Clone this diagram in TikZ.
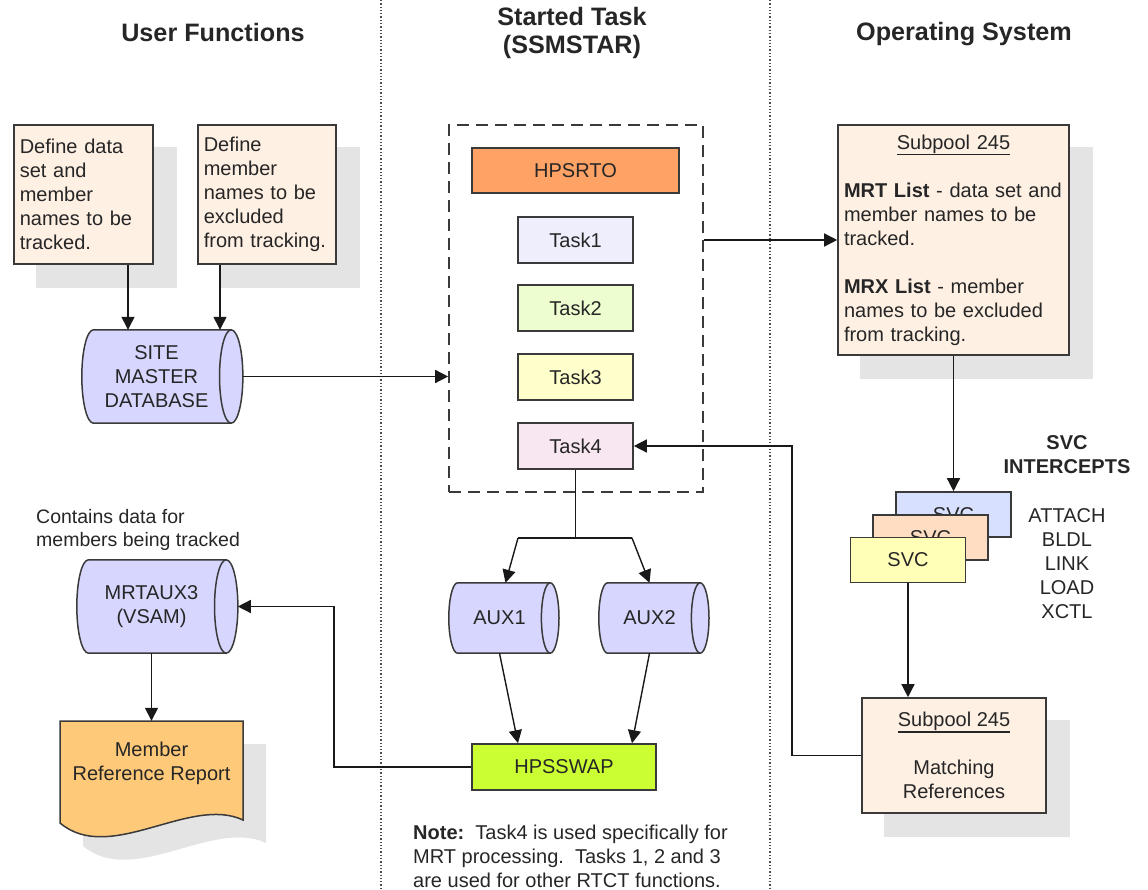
\documentclass[tikz,border=0pt]{standalone}
\usepackage{fontspec}
\setmainfont{Liberation Sans}
\usetikzlibrary{arrows.meta,calc,backgrounds}

\definecolor{txtc}{HTML}{262626}
\definecolor{bordc}{HTML}{3A3A3A}
\definecolor{peach}{HTML}{FFF0E4}
\definecolor{shadowc}{HTML}{E4E4E4}
\definecolor{cylc}{HTML}{D6D6FF}
\definecolor{rtoc}{HTML}{FFA265}
\definecolor{taskA}{HTML}{EEEEFC}
\definecolor{taskB}{HTML}{EEFDCF}
\definecolor{taskC}{HTML}{FFFFCC}
\definecolor{taskD}{HTML}{F8E6F0}
\definecolor{swapc}{HTML}{CCFF33}
\definecolor{reportc}{HTML}{FFC97A}
\definecolor{svcA}{HTML}{D8E0FF}
\definecolor{svcB}{HTML}{FFDDC2}
\definecolor{svcC}{HTML}{FFFFB8}

% underlined heading inside the subpool boxes
\newcommand\poolhead[1]{\leavevmode\vtop{\hbox{#1}\kern0.6pt\hrule height 1.5pt}}

% horizontal storage cylinder drawn round the body of a named node
\newcommand\dbcyl[1]{%
  \path[cylshape] let \p1=(#1.north west), \p2=(#1.south east),
      \n1={(\y1-\y2)/2}, \n2={(\y1-\y2)/8} in
    (\x1+\n2,\y1) -- (\x2,\y1)
      arc[start angle=90, end angle=-90, x radius=\n2, y radius=\n1]
    -- (\x1+\n2,\y2)
      arc[start angle=270, end angle=90, x radius=\n2, y radius=\n1] -- cycle;
  \path[cylrim] let \p1=(#1.north east), \p2=(#1.south east),
      \n1={(\y1-\y2)/2}, \n2={(\y1-\y2)/8} in
    (\x1,\y1) arc[start angle=90, end angle=270, x radius=\n2, y radius=\n1];
}

\tikzset{
  every node/.style={font=\fontsize{20}{24}\selectfont, text=txtc},
  title/.style={font=\fontsize{25.2}{28}\bfseries\selectfont, align=center},
  box/.style={draw=bordc, line width=1.6pt, rectangle, inner sep=0pt},
  notebox/.style={box, fill=peach, inner xsep=6pt, align=left},
  taskbox/.style={box, minimum width=115pt, minimum height=46pt},
  svcbox/.style={box, minimum width=115pt, minimum height=45pt},
  cylbody/.style={inner sep=0pt, align=center},
  cylshape/.style={fill=cylc, draw=bordc, line width=1.5pt},
  cylrim/.style={draw=bordc, line width=1.5pt},
  divider/.style={draw=black!70, line width=1.3pt, dotted},
  frame/.style={draw=bordc, line width=1.6pt, dash pattern=on 12pt off 7pt,
                minimum width=254pt, minimum height=367pt},
  link/.style={draw=black!90, line width=1.4pt},
  arr/.style={link, -{Triangle[length=13pt, width=13pt]}},
}

\begin{document}
\begin{tikzpicture}[x=1pt, y=1pt]
\useasboundingbox (0,0) rectangle (1148,-890);

% column dividers
\draw[divider] (381,0) -- (381,-890);
\draw[divider] (770,0) -- (770,-890);

% column headings
\node[title] (hUser) at (213,-32) {User Functions};
\node[title] (hTask) at (572,-33) {Started Task\\(SSMSTAR)};
\node[title] (hOS)   at (964,-34.5) {Operating System};

% ---------- user functions ----------
\node[notebox, text width=127pt, minimum height=139pt, anchor=north west] (def1)
  at (13,-124) {Define data\\set and\\member\\names to be\\tracked.};
\node[notebox, text width=126pt, minimum height=139pt, anchor=north west] (def2)
  at (197,-124) {Define\\member\\names to be\\excluded\\from tracking.};

\node[cylbody, minimum width=149pt, minimum height=93pt] (site)
  at (156.5,-376.5) {SITE\\MASTER\\DATABASE};

\node[anchor=west, align=left, inner sep=0pt, font=\fontsize{19.5}{23}\selectfont] (contains)
  at (36,-530) {Contains data for\\members being tracked};

\node[cylbody, minimum width=149pt, minimum height=93pt] (mrtaux3)
  at (151.5,-606.5) {MRTAUX3\\(VSAM)};

\node[cylbody, minimum width=183pt, minimum height=85pt] (report)
  at (151.5,-763.5) {Member\\Reference Report};

% ---------- started task ----------
\node[frame] (frame) at (576,-308.5) {};
\node[box, fill=rtoc, minimum width=207pt, minimum height=45pt] (hpsrto)
  at (575.5,-170.5) {HPSRTO};
\node[taskbox, fill=taskA] (task1) at (575.5,-240) {Task1};
\node[taskbox, fill=taskB] (task2) at (575.5,-308) {Task2};
\node[taskbox, fill=taskC] (task3) at (575.5,-377) {Task3};
\node[taskbox, fill=taskD] (task4) at (575.5,-446) {Task4};

\node[cylbody, minimum width=101pt, minimum height=70pt] (aux1) at (499.5,-618) {AUX1};
\node[cylbody, minimum width=101pt, minimum height=70pt] (aux2) at (649.5,-618) {AUX2};

\node[box, fill=swapc, minimum width=184pt, minimum height=46pt] (hpsswap)
  at (564,-767) {HPSSWAP};

\node[anchor=west, align=left, inner sep=0pt] (note) at (413,-856)
  {\textbf{Note:}\ \ Task4 is used specifically for\\
   MRT processing.\ \ Tasks 1, 2 and 3\\
   are used for other RTCT functions.};

% ---------- operating system ----------
\node[notebox, text width=219pt, minimum height=230pt] (sub1) at (953.5,-240)
  {\makebox[\linewidth]{\poolhead{Subpool 245}}\\
   \mbox{}\\
   \textbf{MRT List} - data set and\\
   member names to be\\
   tracked.\\
   \mbox{}\\
   \textbf{MRX List} - member\\
   names to be excluded\\
   from tracking.};

\node[align=center, font=\fontsize{20}{24}\bfseries\selectfont] (svchead)
  at (1067,-455) {SVC\\INTERCEPTS};

\node[svcbox, fill=svcA] (svcBack)  at (953.5,-514.5) {SVC};
\node[svcbox, fill=svcB] (svcMid)   at (930.5,-537.5) {SVC};
\node[svcbox, fill=svcC] (svcFront) at (908,-560) {SVC};

\node[align=center, inner sep=0pt] (svclist) at (1067,-564)
  {ATTACH\\BLDL\\LINK\\LOAD\\XCTL};

\node[box, fill=peach, align=center, minimum width=184pt, minimum height=115pt] (sub2)
  at (954,-755.5) {\poolhead{Subpool 245}\\ \mbox{}\\Matching\\References};

% ---------- shadows and drawn shapes behind the nodes ----------
\begin{scope}[on background layer]
  \foreach \b in {def1,def2,sub1,sub2}
    \fill[shadowc] ($(\b.north west)+(23,-23)$) rectangle ($(\b.south east)+(23,-23)$);
  \fill[shadowc] (83,-744) -- (266,-744) -- (266,-843)
    .. controls (213,-818) and (133,-888) .. (83,-846) -- cycle;
  \path[fill=reportc, draw=bordc, line width=1.5pt]
    (60,-721) -- (243,-721) -- (243,-820)
    .. controls (190,-795) and (110,-865) .. (60,-823) -- cycle;
  \dbcyl{site}
  \dbcyl{mrtaux3}
  \dbcyl{aux1}
  \dbcyl{aux2}
\end{scope}

% ---------- connectors ----------
\coordinate (c1) at (128,0);
\coordinate (c2) at (220,0);
\coordinate (forkL) at (518,-538);
\coordinate (forkR) at (632,-538);
\coordinate (bendA) at (334,0);
\coordinate (bendB) at (792,0);

\draw[arr] (def1.south -| c1) -- (site.north -| c1);
\draw[arr] (def2.south -| c2) -- (site.north -| c2);
\draw[arr] ($(site.east)+(11.6,0)$) -- (frame.west |- site.east);
\draw[arr] (frame.east |- sub1.west) -- (sub1.west);

\draw[link] (task4.south) -- (task4.south |- forkL);
\draw[link] (forkL) -- (forkR);
\draw[arr] (forkL) -- ($(aux1.north)+(6,0)$);
\draw[arr] (forkR) -- (aux2.north);
\draw[arr] (aux1.south) -- (hpsswap.north -| forkL);
\draw[arr] (aux2.south) -- (hpsswap.north -| forkR);

\draw[arr] (hpsswap.west) -| (bendA |- mrtaux3.east) -- ($(mrtaux3.east)+(11.6,0)$);
\draw[arr] (mrtaux3.south) -- (report.north);

\draw[arr] (sub1.south) -- (svcBack.north);
\draw[arr] (svcFront.south) -- (svcFront.south |- sub2.north);
\draw[arr] (sub2.west) -| (bendB |- task4.east) -- (task4.east);
\end{tikzpicture}
\end{document}
